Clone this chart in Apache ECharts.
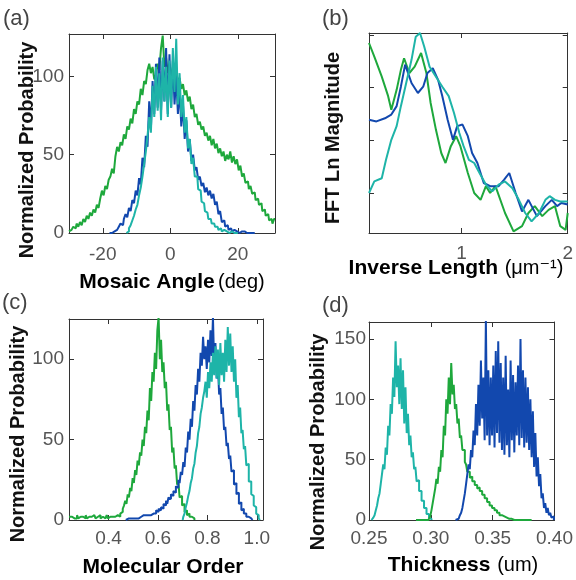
<!DOCTYPE html>
<html>
<head>
<meta charset="utf-8">
<script src="https://cdn.jsdelivr.net/npm/echarts@6/dist/echarts.min.js"></script>
<style>
  html, body { margin: 0; padding: 0; background: #fff; }
  #chart { width: 576px; height: 580px; }
</style>
</head>
<body>
<div id="chart"></div>
<script>
// colours of the three samples
const GREEN = '#1ea83c';
const BLUE = '#1248ae';
const CYAN = '#1eb4a8';

// (a) mosaic angle histograms, bins start/step in degrees
const mosaicGreenStart = -30, mosaicGreenStep = 0.5;
const mosaicGreen = [1, 2, 1, 4, 3, 6, 4, 7, 5, 9, 7, 11, 9, 13, 11, 15, 13, 18, 16, 22,
  27, 24, 30, 28, 34, 36, 41, 38, 49, 55, 52, 58, 56, 63, 60, 68, 66, 73, 70, 79,
  76, 84, 82, 92, 88, 97, 95, 104, 108, 102, 106, 98, 101, 108, 104, 118, 126, 106, 112, 102,
  108, 100, 106, 98, 103, 96, 99, 92, 95, 88, 91, 84, 87, 79, 82, 74, 76, 69, 71, 66,
  68, 62, 64, 59, 62, 56, 60, 54, 57, 51, 54, 49, 52, 46, 50, 47, 52, 45, 49, 44,
  47, 40, 43, 36, 38, 32, 33, 28, 30, 25, 26, 21, 22, 18, 19, 14, 15, 11, 12, 8,
  9, 6, 9];
const mosaicBlueStart = -18, mosaicBlueStep = 0.5;
const mosaicBlue = [0, 0, 1, 1, 2, 3, 4, 6, 5, 9, 12, 10, 16, 14, 21, 19, 27, 24, 35, 31,
  48, 42, 62, 55, 84, 66, 97, 76, 108, 80, 112, 78, 110, 84, 118, 76, 114, 80, 110, 82,
  100, 76, 92, 68, 82, 60, 72, 52, 60, 46, 50, 40, 42, 34, 36, 30, 32, 26, 29, 24,
  27, 22, 25, 18, 20, 12, 14, 7, 8, 4, 5, 2, 3, 1, 2, 1, 1, 0, 1, 0,
  1, 0, 0, 0, 0, 0, 0];
const mosaicCyanStart = -13, mosaicCyanStep = 0.5;
const mosaicCyan = [0, 1, 3, 5, 8, 11, 15, 18, 24, 29, 36, 44, 52, 62, 74, 64, 94, 74, 106, 78,
  102, 72, 112, 84, 106, 74, 110, 80, 118, 90, 124, 82, 102, 74, 88, 64, 74, 54, 60, 44,
  48, 36, 36, 28, 27, 20, 19, 14, 13, 9, 9, 6, 6, 4, 4, 2, 3, 1, 2, 1,
  1, 0, 1, 0, 0, 0, 0];

// (b) FFT log magnitude vs inverse length (µm^-1)
const fftGreenX = [0.13, 0.18, 0.25, 0.31, 0.34, 0.39, 0.43, 0.46, 0.51, 0.56, 0.62, 0.67, 0.71, 0.76, 0.81, 0.85, 0.90, 0.95, 0.99, 1.06,
  1.12, 1.18, 1.23, 1.27, 1.32, 1.41, 1.49, 1.57, 1.63, 1.69, 1.76, 1.82, 1.88, 1.93, 1.98, 2.0];
const fftGreenY = [3.85, 3.59, 3.21, 2.84, 2.58, 2.96, 3.34, 3.56, 3.28, 3.40, 3.66, 3.28, 2.71, 2.20, 1.76, 1.57, 1.89, 2.08, 1.89, 1.38,
  1.00, 0.87, 1.13, 1.00, 1.13, 0.62, 0.27, 0.37, 0.62, 0.75, 0.56, 0.68, 0.75, 0.37, 0.30, 0.62];
const fftBlueX = [0.13, 0.20, 0.28, 0.34, 0.39, 0.43, 0.47, 0.53, 0.59, 0.64, 0.68, 0.73, 0.78, 0.82, 0.87, 0.92, 0.96, 1.01, 1.06, 1.10,
  1.15, 1.21, 1.27, 1.35, 1.40, 1.45, 1.51, 1.57, 1.63, 1.71, 1.79, 1.85, 1.90, 1.94, 2.0];
const fftBlueY = [2.39, 2.36, 2.42, 2.49, 2.65, 3.02, 3.44, 3.09, 2.90, 3.02, 3.28, 3.37, 3.15, 2.84, 2.39, 2.01, 2.27, 2.30, 2.08, 1.76,
  1.57, 1.19, 1.13, 1.13, 1.25, 1.38, 1.00, 0.65, 0.87, 0.56, 0.75, 0.87, 0.75, 0.81, 0.78];
const fftCyanX = [0.13, 0.18, 0.25, 0.29, 0.34, 0.39, 0.43, 0.48, 0.53, 0.57, 0.61, 0.65, 0.70, 0.76, 0.82, 0.88, 0.93, 0.98, 1.02, 1.07,
  1.12, 1.17, 1.23, 1.29, 1.35, 1.41, 1.48, 1.54, 1.60, 1.66, 1.73, 1.79, 1.83, 1.88, 1.93, 2.0];
const fftCyanY = [1.00, 1.22, 1.28, 1.63, 2.01, 2.27, 2.65, 3.09, 3.53, 3.97, 4.04, 3.78, 3.40, 3.21, 3.02, 2.84, 2.52, 2.14, 1.89, 1.63,
  1.57, 1.38, 1.16, 1.03, 1.16, 1.22, 1.09, 0.87, 0.62, 0.46, 0.62, 0.87, 0.94, 0.87, 0.84, 0.84];

// (c) molecular order histograms
const orderStep = 0.005;
const orderGreenStart = 0.24;
const orderGreen = [2, 1, 2, 1, 1, 2, 1, 3, 1, 2, 1, 2, 2, 1, 3, 1, 2, 1, 2, 1,
  3, 2, 1, 2, 1, 3, 1, 2, 2, 1, 2, 3, 1, 2, 1, 2, 3, 2, 1, 3,
  2, 2, 4, 5, 7, 9, 12, 10, 16, 14, 20, 18, 26, 23, 31, 28, 37, 34, 42, 40,
  50, 46, 58, 54, 68, 62, 82, 74, 92, 86, 104, 94, 118, 126, 100, 112, 92, 98, 82, 86,
  68, 72, 56, 58, 42, 45, 32, 34, 22, 24, 14, 15, 9, 10, 5, 6, 3, 4, 2, 2,
  1, 1, 0];
const orderBlueStart = 0.47;
const orderBlue = [0, 0, 1, 0, 1, 1, 1, 1, 1, 2, 1, 2, 2, 2, 3, 2, 3, 3, 3, 4,
  3, 4, 4, 5, 4, 6, 5, 7, 6, 8, 7, 10, 9, 12, 10, 14, 13, 16, 15, 18,
  17, 21, 20, 25, 23, 30, 28, 36, 33, 45, 42, 55, 50, 63, 58, 74, 68, 84, 78, 94,
  86, 104, 96, 114, 100, 108, 94, 112, 98, 118, 102, 126, 96, 110, 88, 96, 78, 82, 66, 70,
  56, 58, 46, 48, 38, 40, 30, 31, 22, 23, 16, 17, 10, 11, 6, 7, 4, 4, 2, 2,
  1, 1, 0, 0];
const orderCyanStart = 0.70;
const orderCyan = [0, 2, 4, 8, 11, 15, 18, 23, 26, 32, 35, 42, 46, 54, 58, 66, 70, 76, 80, 86,
  76, 92, 82, 98, 86, 104, 90, 108, 88, 106, 84, 110, 90, 104, 86, 112, 92, 120, 96, 116,
  92, 108, 86, 100, 76, 84, 64, 70, 54, 56, 44, 46, 34, 35, 24, 24, 16, 15, 9, 8,
  4, 3, 1, 0];

// (d) thickness histograms (um)
const thickStep = 0.001;
const thickCyanStart = 0.252;
const thickCyan = [0, 1, 2, 4, 8, 12, 18, 22, 30, 38, 46, 42, 60, 54, 78, 70, 96, 88, 118, 102,
  148, 110, 128, 96, 134, 92, 124, 80, 110, 72, 88, 62, 70, 52, 56, 42, 44, 32, 33, 24,
  24, 16, 16, 10, 10, 5, 5, 2, 1, 0];
const thickGreenStart = 0.288;
const thickGreen = [0, 0, 0, 0, 0, 0, 0, 0, 0, 0, 0, 1, 3, 8, 14, 20, 26, 34, 30, 44,
  40, 58, 52, 78, 70, 100, 88, 118, 96, 130, 104, 112, 92, 96, 80, 84, 68, 70, 58, 58,
  48, 46, 40, 40, 35, 36, 32, 32, 29, 29, 26, 27, 24, 24, 21, 21, 18, 18, 15, 15,
  12, 12, 10, 10, 8, 8, 6, 6, 4, 4, 3, 3, 2, 2, 2, 1, 1, 1, 1, 0,
  1, 0, 0, 0, 0, 0, 0, 0, 0, 0, 0, 0, 0, 0, 0];
const thickBlueStart = 0.320;
const thickBlue = [0, 0, 1, 2, 4, 6, 10, 16, 22, 30, 38, 46, 42, 58, 52, 74, 62, 96, 70, 112,
  78, 132, 84, 118, 66, 166, 70, 124, 62, 118, 70, 128, 60, 140, 72, 148, 64, 130, 58, 118,
  54, 136, 62, 108, 52, 132, 66, 120, 56, 114, 70, 128, 62, 150, 68, 124, 60, 118, 64, 110,
  58, 100, 52, 90, 44, 72, 36, 52, 28, 38, 18, 22, 10, 14, 6, 10, 4, 6, 2, 3,
  0];

function bins(start, step, values) {
  return values.map((v, i) => [+(start + i * step).toFixed(4), v]);
}
function pairs(xs, ys) {
  return xs.map((x, i) => [x, ys[i]]);
}

const grids = [
  { left: 69, top: 34, width: 206, height: 199 },
  { left: 369, top: 33, width: 200, height: 200 },
  { left: 69, top: 319, width: 194, height: 201 },
  { left: 369, top: 322, width: 188, height: 198 }
];

const labelFont = { fontFamily: 'Liberation Sans', fontSize: 19, color: '#555' };

function xAxisFor(gridIndex, min, max, values, fmt, margin) {
  return [
    {
      type: 'value', gridIndex, min, max, position: 'bottom',
      axisLine: { show: true, onZero: false, lineStyle: { color: '#333' } },
      axisTick: { show: true, inside: true, length: 5, customValues: values, lineStyle: { color: '#333' } },
      axisLabel: Object.assign({ customValues: values, margin, formatter: fmt }, labelFont),
      splitLine: { show: false }
    },
    {
      type: 'value', gridIndex, min, max, position: 'top',
      axisLine: { show: true, onZero: false, lineStyle: { color: '#333' } },
      axisTick: { show: true, inside: true, length: 5, customValues: values, lineStyle: { color: '#333' } },
      axisLabel: { show: false },
      splitLine: { show: false }
    }
  ];
}
function yAxisFor(gridIndex, min, max, values, showLabels, margin) {
  return [
    {
      type: 'value', gridIndex, min, max, position: 'left',
      axisLine: { show: true, onZero: false, lineStyle: { color: '#333' } },
      axisTick: { show: true, inside: true, length: 5, customValues: values, lineStyle: { color: '#333' } },
      axisLabel: Object.assign({ show: showLabels, customValues: values, margin }, labelFont),
      splitLine: { show: false }
    },
    {
      type: 'value', gridIndex, min, max, position: 'right',
      axisLine: { show: true, onZero: false, lineStyle: { color: '#333' } },
      axisTick: { show: true, inside: true, length: 5, customValues: values, lineStyle: { color: '#333' } },
      axisLabel: { show: false },
      splitLine: { show: false }
    }
  ];
}

const xAxes = [].concat(
  xAxisFor(0, -30, 31, [-20, 0, 20], v => String(v), 12),
  xAxisFor(1, 0.13, 2, [1, 2], v => String(v), 11),
  xAxisFor(2, 0.24, 1.025, [0.4, 0.6, 0.8, 1.0], v => v.toFixed(1), 9),
  xAxisFor(3, 0.25, 0.40, [0.25, 0.30, 0.35, 0.40], v => v.toFixed(2), 9)
);
const yAxes = [].concat(
  yAxisFor(0, 0, 127, [0, 50, 100], true, 5),
  yAxisFor(1, 0.24, 4.04, [1, 2, 3, 4], false, 5),
  yAxisFor(2, 0, 125, [0, 50, 100], true, 5),
  yAxisFor(3, 0, 164, [0, 50, 100, 150], true, 3)
);

function hist(panel, data, color) {
  return {
    type: 'line', xAxisIndex: panel * 2, yAxisIndex: panel * 2, data,
    step: 'middle', showSymbol: false, animation: false, clip: true,
    lineStyle: { color, width: 2 }
  };
}
function curve(panel, data, color) {
  return {
    type: 'line', xAxisIndex: panel * 2, yAxisIndex: panel * 2, data,
    showSymbol: false, animation: false, clip: true,
    lineStyle: { color, width: 2 }
  };
}

const series = [
  hist(0, bins(mosaicGreenStart, mosaicGreenStep, mosaicGreen), GREEN),
  hist(0, bins(mosaicBlueStart, mosaicBlueStep, mosaicBlue), BLUE),
  hist(0, bins(mosaicCyanStart, mosaicCyanStep, mosaicCyan), CYAN),
  curve(1, pairs(fftGreenX, fftGreenY), GREEN),
  curve(1, pairs(fftBlueX, fftBlueY), BLUE),
  curve(1, pairs(fftCyanX, fftCyanY), CYAN),
  hist(2, bins(orderGreenStart, orderStep, orderGreen), GREEN),
  hist(2, bins(orderBlueStart, orderStep, orderBlue), BLUE),
  hist(2, bins(orderCyanStart, orderStep, orderCyan), CYAN),
  hist(3, bins(thickCyanStart, thickStep, thickCyan), CYAN),
  hist(3, bins(thickGreenStart, thickStep, thickGreen), GREEN),
  hist(3, bins(thickBlueStart, thickStep, thickBlue), BLUE)
];

const titleRich = {
  b: { fontFamily: 'Liberation Sans', fontWeight: 'bold', fontSize: 21, color: '#111' },
  n: { fontFamily: 'Liberation Sans, DejaVu Sans', fontSize: 20, color: '#444' }
};
function panelLabel(text, x, y) {
  return { type: 'text', x, y, style: { text, fontFamily: 'Liberation Sans', fontSize: 22, fill: '#444', align: 'left', verticalAlign: 'middle' } };
}
function xTitle(text, x, y) {
  return { type: 'text', x, y, style: { text, rich: titleRich, align: 'center', verticalAlign: 'middle' } };
}
function yTitle(text, x, y) {
  return {
    type: 'text', x, y, rotation: Math.PI / 2,
    style: { text, fontFamily: 'Liberation Sans', fontWeight: 'bold', fontSize: 20, fill: '#111', align: 'center', verticalAlign: 'middle' }
  };
}

const chart = echarts.init(document.getElementById('chart'), null, { renderer: 'canvas' });
chart.setOption({
  backgroundColor: '#fff',
  animation: false,
  grid: grids.map(g => Object.assign({ show: false, containLabel: false }, g)),
  xAxis: xAxes,
  yAxis: yAxes,
  series,
  graphic: [
    panelLabel('(a)', 3, 19),
    panelLabel('(b)', 322, 19),
    panelLabel('(c)', 2, 303),
    panelLabel('(d)', 322, 306),
    yTitle('Normalized Probability', 27, 150),
    yTitle('FFT Ln Magnitude', 333, 138),
    yTitle('Normalized Probability', 18, 434),
    yTitle('Normalized Probability', 318, 442),
    xTitle('{b|Mosaic Angle} {n|(deg)}', 172, 282),
    xTitle('{b|Inverse Length}  {n|(μm⁻¹)}', 456, 268),
    xTitle('{b|Molecular Order}', 163, 567),
    xTitle('{b|Thickness}  {n|(um)}', 463, 565)
  ]
});
</script>
</body>
</html>
